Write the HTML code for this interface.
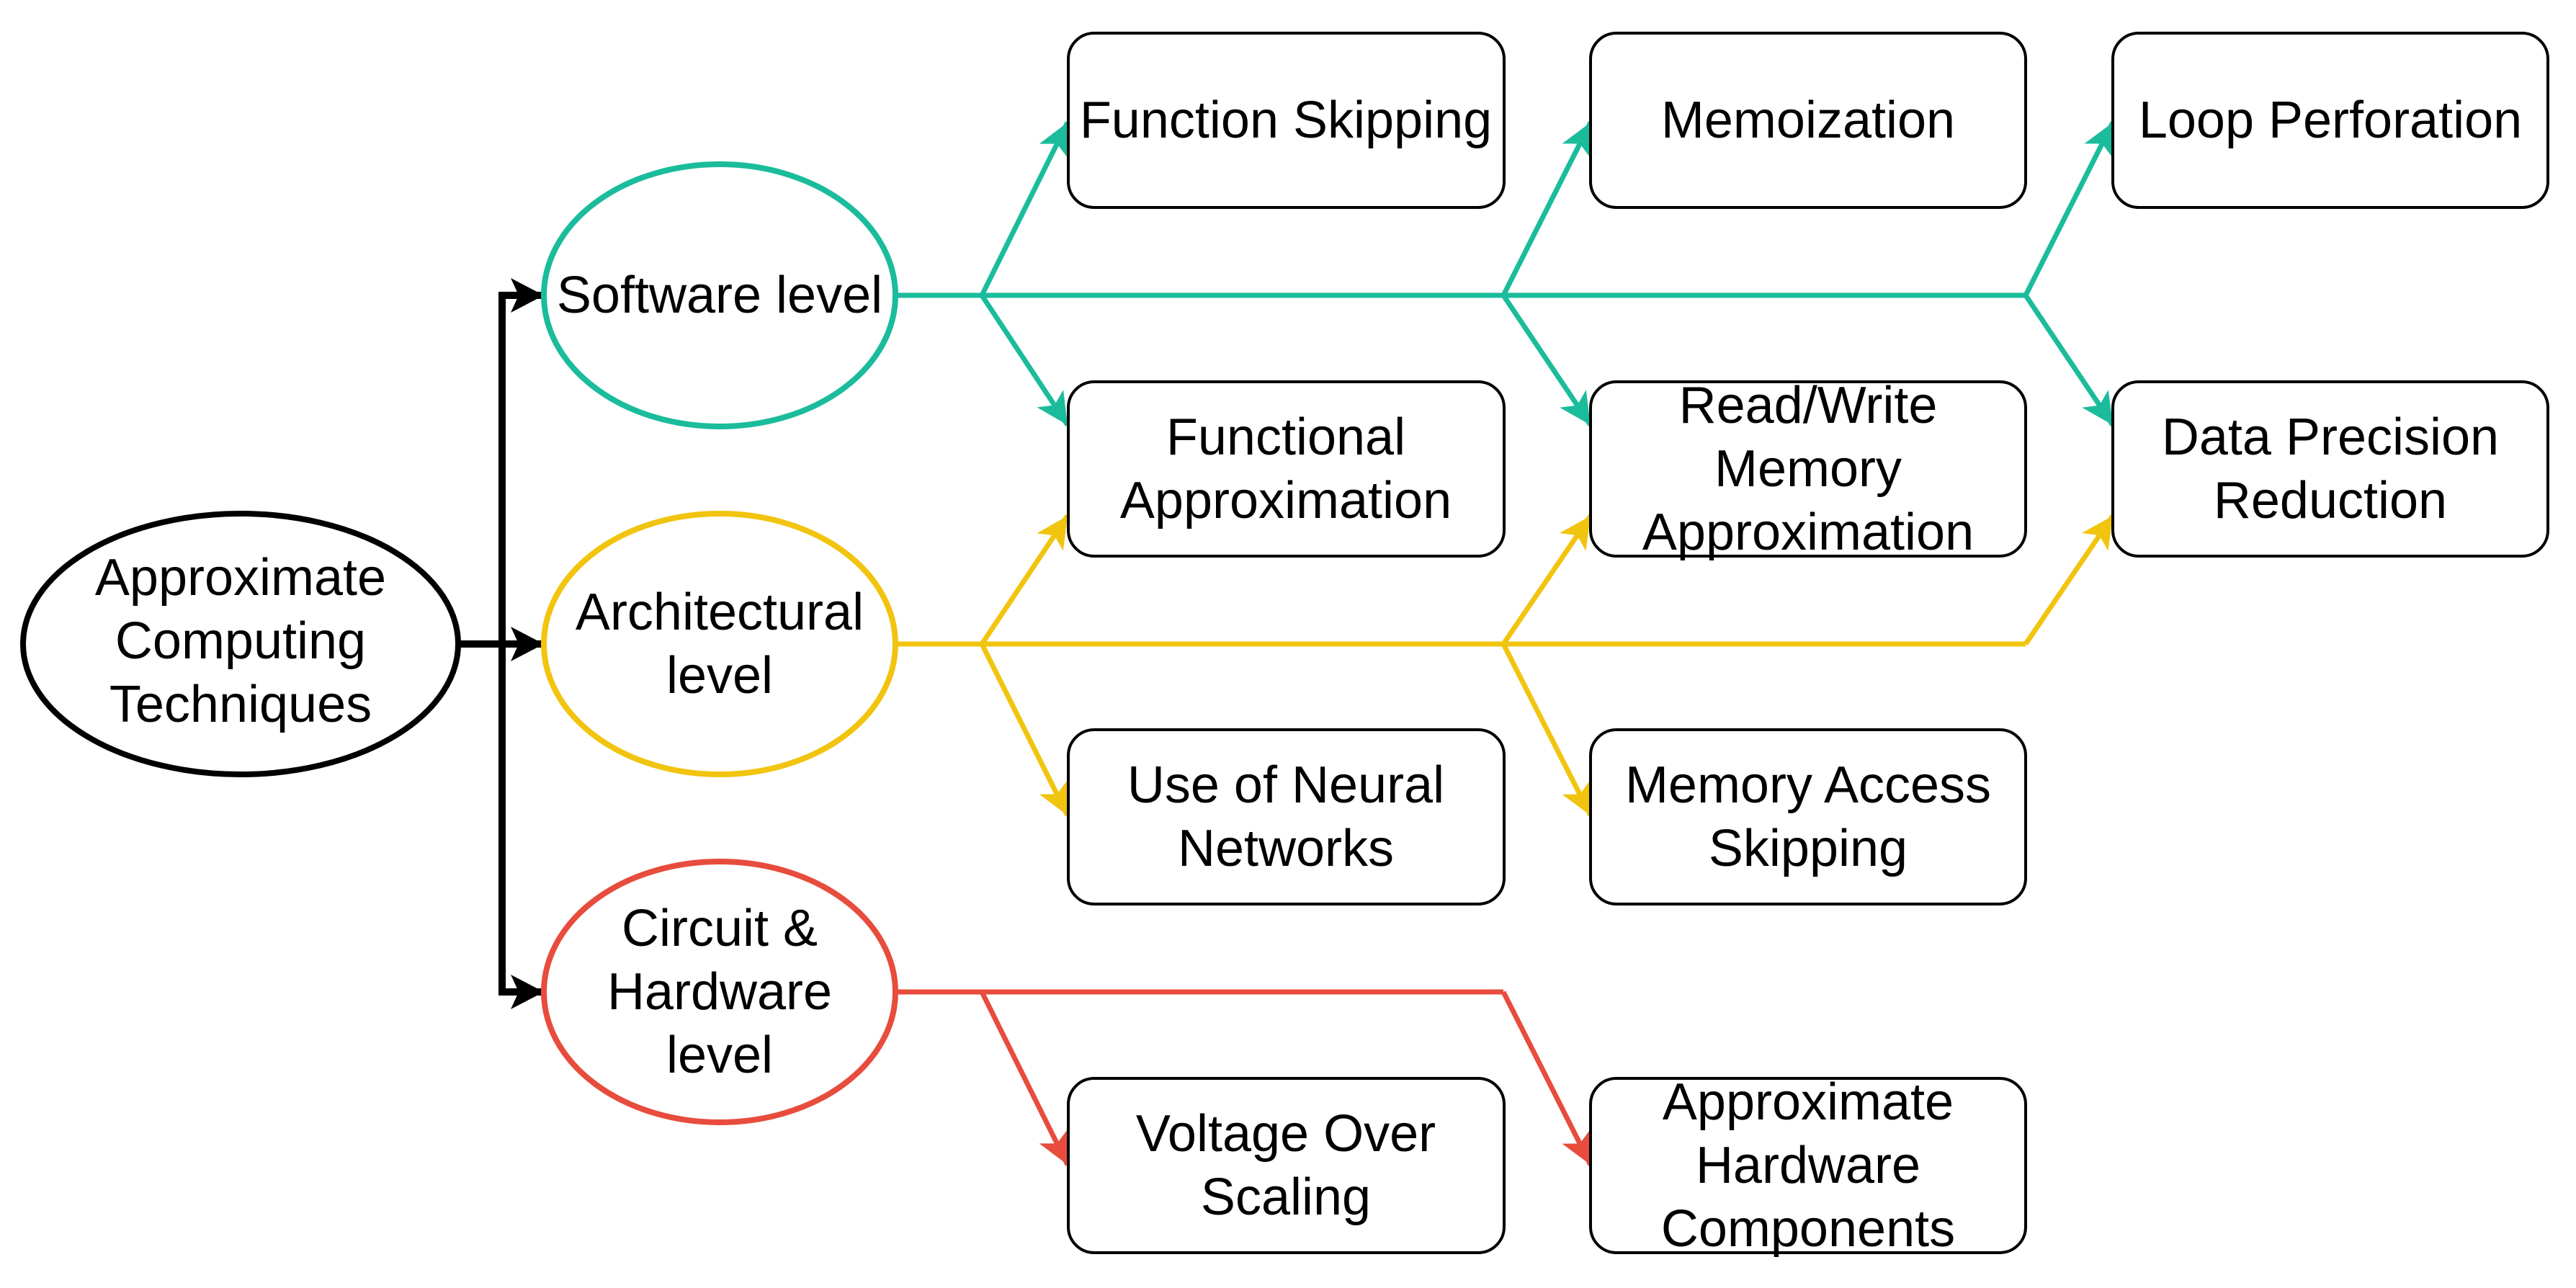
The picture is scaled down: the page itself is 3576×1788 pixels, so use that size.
<!DOCTYPE html>
<html><head><meta charset="utf-8"><style>
html,body{margin:0;padding:0;background:#fff;}
svg{display:block;}
text{font-family:"Liberation Sans",Arial,sans-serif;font-size:72px;fill:#000;text-anchor:middle;}
</style></head><body>
<svg width="3576" height="1788" viewBox="0 0 3576 1788" xmlns="http://www.w3.org/2000/svg">
<defs>
<marker id="aK" markerUnits="userSpaceOnUse" markerWidth="60" markerHeight="60" viewBox="-50 -30 60 60" refX="0" refY="0" orient="auto"><path d="M0,0 L-46,-24 L-35,0 L-46,24 Z" fill="#000"/></marker>
<marker id="aT" markerUnits="userSpaceOnUse" markerWidth="60" markerHeight="60" viewBox="-50 -30 60 60" refX="0" refY="0" orient="auto"><path d="M0,0 L-44,-22 L-33,0 L-44,22 Z" fill="#1ABC9C"/></marker>
<marker id="aY" markerUnits="userSpaceOnUse" markerWidth="60" markerHeight="60" viewBox="-50 -30 60 60" refX="0" refY="0" orient="auto"><path d="M0,0 L-44,-22 L-33,0 L-44,22 Z" fill="#F1C40F"/></marker>
<marker id="aR" markerUnits="userSpaceOnUse" markerWidth="60" markerHeight="60" viewBox="-50 -30 60 60" refX="0" refY="0" orient="auto"><path d="M0,0 L-44,-22 L-33,0 L-44,22 Z" fill="#E74C3C"/></marker>
</defs>

<!-- black connectors -->
<g fill="none" stroke="#000" stroke-width="10">
<line x1="636" y1="894" x2="755" y2="894" marker-end="url(#aK)"/>
<polyline points="697,894 697,410 755,410" marker-end="url(#aK)"/>
<polyline points="697,894 697,1377 755,1377" marker-end="url(#aK)"/>
</g>

<!-- teal -->
<g fill="none" stroke="#1ABC9C" stroke-width="7">
<line x1="1243" y1="410" x2="2812" y2="410"/>
<line x1="1363" y1="410" x2="1482" y2="170" marker-end="url(#aT)"/>
<line x1="1363" y1="410" x2="1482" y2="590" marker-end="url(#aT)"/>
<line x1="2087" y1="410" x2="2208" y2="170" marker-end="url(#aT)"/>
<line x1="2087" y1="410" x2="2208" y2="590" marker-end="url(#aT)"/>
<line x1="2812" y1="410" x2="2933" y2="170" marker-end="url(#aT)"/>
<line x1="2812" y1="410" x2="2933" y2="590" marker-end="url(#aT)"/>
</g>
<!-- yellow -->
<g fill="none" stroke="#F1C40F" stroke-width="7">
<line x1="1243" y1="894" x2="2812" y2="894"/>
<line x1="1363" y1="894" x2="1482" y2="716" marker-end="url(#aY)"/>
<line x1="1363" y1="894" x2="1482" y2="1132" marker-end="url(#aY)"/>
<line x1="2087" y1="894" x2="2208" y2="716" marker-end="url(#aY)"/>
<line x1="2087" y1="894" x2="2208" y2="1132" marker-end="url(#aY)"/>
<line x1="2812" y1="894" x2="2933" y2="716" marker-end="url(#aY)"/>
</g>
<!-- red -->
<g fill="none" stroke="#E74C3C" stroke-width="7">
<line x1="1243" y1="1377" x2="2087" y2="1377"/>
<line x1="1363" y1="1377" x2="1482" y2="1617" marker-end="url(#aR)"/>
<line x1="2087" y1="1377" x2="2208" y2="1617" marker-end="url(#aR)"/>
</g>

<!-- ellipses -->
<ellipse cx="334" cy="894" rx="302" ry="181" fill="#fff" stroke="#000" stroke-width="8"/>
<ellipse cx="999" cy="410" rx="244" ry="182" fill="#fff" stroke="#1ABC9C" stroke-width="8"/>
<ellipse cx="999" cy="894" rx="244" ry="181" fill="#fff" stroke="#F1C40F" stroke-width="8"/>
<ellipse cx="999" cy="1377" rx="244" ry="181" fill="#fff" stroke="#E74C3C" stroke-width="8"/>

<text x="334" y="826">Approximate</text>
<text x="334" y="914">Computing</text>
<text x="334" y="1002">Techniques</text>
<text x="999" y="434">Software level</text>
<text x="999" y="874">Architectural</text>
<text x="999" y="962">level</text>
<text x="999" y="1313">Circuit &amp;</text>
<text x="999" y="1401">Hardware</text>
<text x="999" y="1489">level</text>

<!-- boxes -->
<g fill="#fff" stroke="#000" stroke-width="4">
<rect x="1483" y="46" width="605" height="242" rx="36"/>
<rect x="2208" y="46" width="604" height="242" rx="36"/>
<rect x="2933" y="46" width="604" height="242" rx="36"/>
<rect x="1483" y="530" width="605" height="242" rx="36"/>
<rect x="2208" y="530" width="604" height="242" rx="36"/>
<rect x="2933" y="530" width="604" height="242" rx="36"/>
<rect x="1483" y="1013" width="605" height="242" rx="36"/>
<rect x="2208" y="1013" width="604" height="242" rx="36"/>
<rect x="1483" y="1497" width="605" height="242" rx="36"/>
<rect x="2208" y="1497" width="604" height="242" rx="36"/>
</g>

<text x="1785" y="191">Function Skipping</text>
<text x="2510" y="191">Memoization</text>
<text x="3235" y="191">Loop Perforation</text>
<text x="1785" y="631">Functional</text>
<text x="1785" y="719">Approximation</text>
<text x="2510" y="587">Read/Write</text>
<text x="2510" y="675">Memory</text>
<text x="2510" y="763">Approximation</text>
<text x="3235" y="631">Data Precision</text>
<text x="3235" y="719">Reduction</text>
<text x="1785" y="1114">Use of Neural</text>
<text x="1785" y="1202">Networks</text>
<text x="2510" y="1114">Memory Access</text>
<text x="2510" y="1202">Skipping</text>
<text x="1785" y="1598">Voltage Over</text>
<text x="1785" y="1686">Scaling</text>
<text x="2510" y="1554">Approximate</text>
<text x="2510" y="1642">Hardware</text>
<text x="2510" y="1730">Components</text>
</svg>
</body></html>
